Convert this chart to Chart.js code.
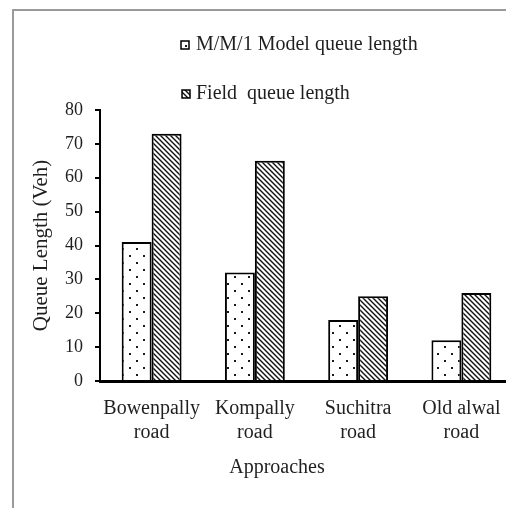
<!DOCTYPE html>
<html>
<head>
<meta charset="utf-8">
<script src="https://cdn.jsdelivr.net/npm/chart.js@4.4.1/dist/chart.umd.min.js"></script>
<style>
  html, body { margin: 0; padding: 0; background: #fff; overflow: hidden; }
  #wrap { width: 520px; height: 508px; }
</style>
</head>
<body>
<div id="wrap"><canvas id="c" width="520" height="508"></canvas></div>
<script>
// Queue lengths per approach
const categories = [["Bowenpally", "road"], ["Kompally", "road"], ["Suchitra", "road"], ["Old alwal", "road"]];
const modelQueue = [41, 32, 18, 12];
const fieldQueue = [73, 65, 25, 26];
const seriesNames = ["M/M/1 Model queue length", "Field  queue length"];
const yTicks = { min: 0, max: 80, step: 10 };
const yTitle = "Queue Length (Veh)";
const xTitle = "Approaches";

const SERIF = "'Liberation Serif', 'Times New Roman', serif";
const INK = "#1f1f1f";

// Sparse staggered dot fill
function dotPattern() {
  const t = document.createElement("canvas");
  t.width = 14; t.height = 14;
  const g = t.getContext("2d");
  g.fillStyle = "#fff"; g.fillRect(0, 0, 14, 14);
  g.fillStyle = "#1a1a1a";
  g.fillRect(3, 3, 2, 2);
  g.fillRect(10, 10, 2, 2);
  return g.createPattern(t, "repeat");
}

// Dense back-diagonal hatch fill
function hatchPattern() {
  const s = 5;
  const t = document.createElement("canvas");
  t.width = s; t.height = s;
  const g = t.getContext("2d");
  g.fillStyle = "#fff"; g.fillRect(0, 0, s, s);
  g.strokeStyle = "#111"; g.lineWidth = 1.4;
  g.beginPath();
  g.moveTo(-1, -1); g.lineTo(s + 1, s + 1);
  g.moveTo(-1, s - 1); g.lineTo(1, s + 1);
  g.moveTo(s - 1, -1); g.lineTo(s + 1, 1);
  g.stroke();
  return g.createPattern(t, "repeat");
}

// Grey frame and white page behind everything
const framePlugin = {
  id: "frame",
  beforeDraw(chart) {
    const ctx = chart.ctx;
    ctx.save();
    ctx.fillStyle = "#fff";
    ctx.fillRect(0, 0, chart.width, chart.height);
    ctx.strokeStyle = "#9a9a9a";
    ctx.lineWidth = 2;
    ctx.beginPath();
    ctx.moveTo(13, chart.height);
    ctx.lineTo(13, 10);
    ctx.lineTo(chart.width, 10);
    ctx.stroke();
    ctx.restore();
  }
};

// Stacked legend entries above the plot, plus the category axis caption
const annotatePlugin = {
  id: "annotate",
  afterDraw(chart) {
    const ctx = chart.ctx;
    ctx.save();
    const rows = [45, 94];
    chart.data.datasets.forEach((ds, i) => {
      const y = rows[i];
      const bx = 181 + i, by = y - 4, bs = 8;
      ctx.fillStyle = ds.backgroundColor;
      ctx.fillRect(bx, by, bs, bs);
      ctx.strokeStyle = "#000"; ctx.lineWidth = 1.5;
      ctx.strokeRect(bx, by, bs, bs);
      ctx.fillStyle = INK;
      ctx.font = "20px " + SERIF;
      ctx.textAlign = "left"; ctx.textBaseline = "middle";
      ctx.fillText(ds.label, 196, y);
    });
    ctx.font = "20px " + SERIF;
    ctx.textAlign = "center"; ctx.textBaseline = "middle";
    ctx.fillStyle = INK;
    ctx.fillText(xTitle, 277, 468);
    ctx.restore();
  }
};

new Chart(document.getElementById("c"), {
  type: "bar",
  data: {
    labels: categories,
    datasets: [
      { label: seriesNames[0], data: modelQueue, backgroundColor: dotPattern(),
        borderColor: "#000", borderWidth: 2 },
      { label: seriesNames[1], data: fieldQueue, backgroundColor: hatchPattern(),
        borderColor: "#000", borderWidth: 2 }
    ]
  },
  options: {
    responsive: false,
    devicePixelRatio: 1,
    animation: false,
    layout: { padding: { top: 110, right: 7, bottom: 0, left: 0 } },
    datasets: { bar: { categoryPercentage: 0.58, barPercentage: 1 } },
    plugins: { legend: { display: false }, tooltip: { enabled: false } },
    scales: {
      x: {
        afterFit(s) { s.height = 127; },
        grid: { display: false },
        border: { display: true, color: "#000", width: 3 },
        ticks: { color: INK, font: { family: SERIF, size: 20, lineHeight: 1.2 }, padding: 8,
                 maxRotation: 0, autoSkip: false }
      },
      y: {
        min: yTicks.min, max: yTicks.max,
        afterFit(s) { s.width = 100; },
        grid: { drawOnChartArea: false, drawTicks: true, tickLength: 5, color: "#000", lineWidth: 2 },
        border: { display: true, color: "#000", width: 2 },
        ticks: { stepSize: yTicks.step, color: INK, font: { family: SERIF, size: 18 }, padding: 12 },
        title: { display: true, text: yTitle, color: INK, font: { family: SERIF, size: 21 },
                 padding: { top: 29, bottom: 0 } }
      }
    }
  },
  plugins: [framePlugin, annotatePlugin]
});
</script>
</body>
</html>
